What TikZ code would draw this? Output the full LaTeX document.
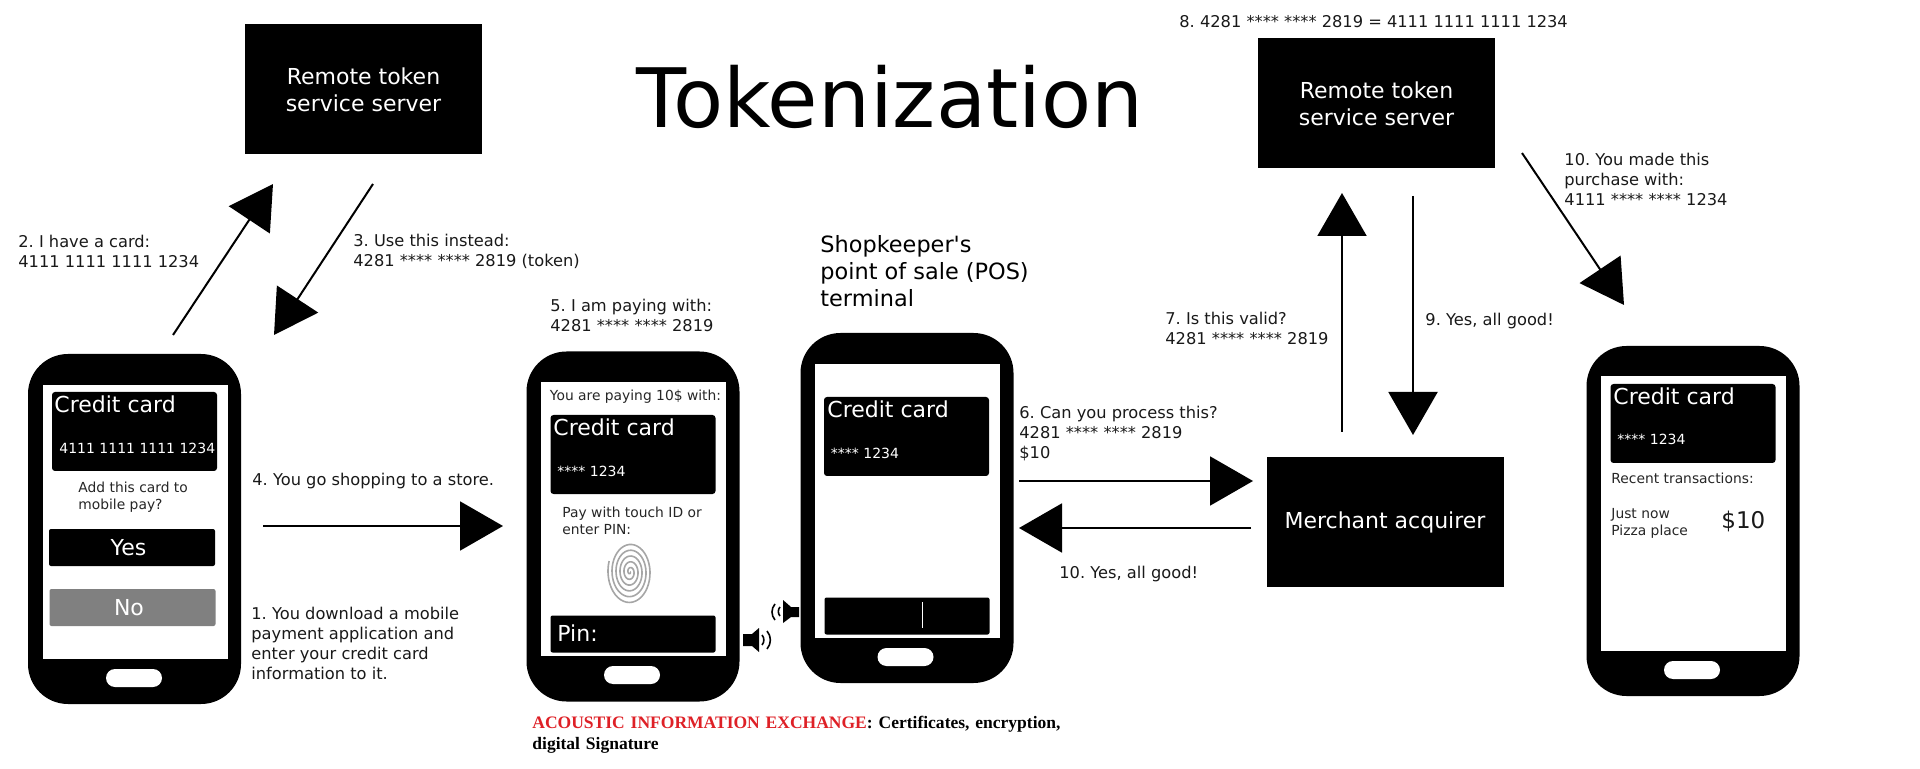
\documentclass[tikz,border=0pt]{standalone}
\usepackage{fontspec}
\setmainfont{DejaVu Sans}
\newfontfamily\plainsans{DejaVu Sans}
\newfontfamily\captionserif{Liberation Serif}
\usetikzlibrary{arrows.meta}
\usepackage{xcolor}
\definecolor{acousticred}{RGB}{222,32,38}
\frenchspacing

\begin{document}
\begin{tikzpicture}[
    x=0.5pt, y=-0.5pt,
    phone/.style={rectangle, fill=black, rounded corners=20pt, minimum width=106.5pt, minimum height=175pt, inner sep=0pt},
    screen/.style={rectangle, fill=white, minimum width=92.5pt, minimum height=137pt, inner sep=0pt},
    homekey/.style={rectangle, fill=white, rounded corners=4.5pt, minimum width=28pt, minimum height=9pt, inner sep=0pt},
    card/.style={rectangle, fill=black, rounded corners=1.5pt, minimum width=82.5pt, minimum height=39.5pt, inner sep=0pt},
    bar/.style={rectangle, fill=black, rounded corners=1pt, minimum width=82.5pt, minimum height=18.5pt, inner sep=0pt, text=white, font=\fontsize{11}{13}\selectfont},
    server/.style={rectangle, fill=black, text=white, minimum width=118.5pt, minimum height=65pt, inner sep=0pt, align=center, font=\fontsize{11}{13.5}\selectfont},
    cardtitle/.style={anchor=west, inner sep=0pt, text=white, font=\fontsize{11}{13}\selectfont},
    cardnumber/.style={anchor=west, inner sep=0pt, text=white, font=\fontsize{7}{9}\selectfont},
    screentext/.style={anchor=west, inner sep=0pt, align=left, text=black!85, font=\fontsize{6.92}{8.7}\selectfont},
    steptext/.style={anchor=west, inner sep=0pt, align=left, text=black!90, font=\fontsize{8.12}{10}\selectfont},
    arrow/.style={-{Triangle[length=21.5pt,width=24.5pt]}, line width=1pt}
]
\useasboundingbox (0,0) rectangle (1920,769);

% Title
\node[anchor=center, inner sep=0pt, font=\fontsize{41}{44}\selectfont] (title) at (890,97) {Tokenization};

% Token servers
\node[server] (remote1) at (363.5,89.5) {Remote token\\service server};
\node[server] (remote2) at (1376.5,103.5) {Remote token\\service server};
\node[server] (acquirer) at (1385,522) {Merchant acquirer};

% First phone
\node[phone] (phone1) at (134.5,529) {};
\node[screen] (screen1) at (135,522) {};
\node[homekey] (home1) at (134,678) {};
\node[card] (card1) at (134.5,431.5) {};
\node[cardtitle] (title1) at (54,404) {Credit card};
\node[cardnumber] (number1) at (59,448) {4111 1111 1111 1234};
\node[screentext] (add1) at (78,497) {Add this card to\\mobile pay?};
\node[bar, minimum width=83pt] (yes1) at (132,547.5) {Yes\kern3.5pt};
\node[bar, fill=black!50, minimum width=83pt] (no1) at (132.5,607.5) {No\kern3.5pt};

% Second phone
\node[phone] (phone2) at (633,526.5) {};
\node[screen] (screen2) at (633.5,519) {};
\node[homekey] (home2) at (632,675) {};
\node[screentext] (paying2) at (549.5,397) {You are paying 10\$ with:};
\node[card] (card2) at (633,454.5) {};
\node[cardtitle] (title2) at (553,427) {Credit card};
\node[cardnumber] (number2) at (557,471) {**** 1234};
\node[screentext] (touch2) at (562,521) {Pay with touch ID or\\enter PIN:};
\draw[black!35, line width=0.8pt] plot[domain=0:2000, samples=240, smooth, variable=\t] ({630+\t/1800*20*cos(\t)},{572+\t/1800*29*sin(\t)});
\node[bar] (pin2) at (633,634) {};
\node[cardtitle] (pintext2) at (557,633) {Pin:};

% Third phone
\node[phone] (phone3) at (907,508) {};
\node[screen] (screen3) at (907,501) {};
\node[homekey] (home3) at (905.5,657) {};
\node[card] (card3) at (906.5,436.5) {};
\node[cardtitle] (title3) at (827,409) {Credit card};
\node[cardnumber] (number3) at (830.5,453) {**** 1234};
\node[bar] (bar3) at (907,616) {};
\draw[white, line width=0.4pt] (922,602) -- (922,628);

% Fourth phone
\node[phone] (phone4) at (1693,521) {};
\node[screen] (screen4) at (1693.5,513.5) {};
\node[homekey] (home4) at (1692,670) {};
\node[card] (card4) at (1693,423.5) {};
\node[cardtitle] (title4) at (1613,396) {Credit card};
\node[cardnumber] (number4) at (1617,439) {**** 1234};
\node[screentext] (recent4) at (1611,478) {Recent transactions:};
\node[screentext] (just4) at (1611,523.5) {Just now\\Pizza place};
\node[anchor=west, inner sep=0pt, text=black!90, font=\fontsize{11.5}{13}\selectfont] (price4) at (1721,521) {\$10};

% Speakers
\fill (743,634) -- (752,634) -- (759,628) -- (759,652) -- (752,646) -- (743,646) -- cycle;
\draw[line width=0.8pt] (762,635) to[bend left=40] (762,645);
\draw[line width=0.8pt] (767,631) to[bend left=40] (767,649);
\fill (799,607) -- (791,607) -- (783,600) -- (783,623) -- (791,617) -- (799,617) -- cycle;
\draw[line width=0.8pt] (780,607) to[bend right=40] (780,616);
\draw[line width=0.8pt] (775,604) to[bend right=40] (775,620);

% Step labels
\node[steptext] (step1) at (251,643) {1. You download a mobile\\payment application and\\enter your credit card\\information to it.};
\node[steptext] (step2) at (18,251) {2. I have a card:\\4111 1111 1111 1234};
\node[steptext] (step3) at (353,251) {3. Use this instead:\\4281 **** **** 2819 (token)};
\node[steptext] (step4) at (252,481) {4. You go shopping to a store.};
\node[steptext] (step5) at (550,315) {5. I am paying with:\\4281 **** **** 2819};
\node[steptext] (step6) at (1019,434) {6. Can you process this?\\4281 **** **** 2819\\\$10};
\node[steptext] (step7) at (1165,328) {7. Is this valid?\\4281 **** **** 2819};
\node[steptext] (step8) at (1179,22) {8. 4281 **** **** 2819 = 4111 1111 1111 1234};
\node[steptext] (step9) at (1425,321) {9. Yes, all good!};
\node[steptext] (step10a) at (1059,574) {10. Yes, all good!};
\node[steptext] (step10b) at (1564,179) {10. You made this\\purchase with:\\4111 **** **** 1234};
\node[anchor=west, inner sep=0pt, align=left, font=\fontsize{11.2}{13.5}\selectfont] (shopkeeper) at (820,271) {Shopkeeper{\plainsans '}s\\point of sale (POS)\\terminal};

% Acoustic caption
\node[anchor=north west, inner sep=0pt, align=left, text width=540pt, font=\captionserif\bfseries\fontsize{8.76}{10.5}\selectfont] (acoustic) at (532,716) {\textcolor{acousticred}{ACOUSTIC INFORMATION EXCHANGE}: Certificates, encryption,\\digital Signature};

% Arrow ends
\coordinate (a2s) at (173,335);
\coordinate (a2e) at (273,184);
\coordinate (a3s) at (373,184);
\coordinate (a3e) at (274,335);
\coordinate (a4s) at (263,526);
\coordinate (a4e) at (503,526);
\coordinate (a6s) at (1019,481);
\coordinate (a6e) at (1253,481);
\coordinate (a10s) at (1251,528);
\coordinate (a10e) at (1019,528);
\coordinate (a7s) at (1342,432);
\coordinate (a7e) at (1342,193);
\coordinate (a9s) at (1413,196);
\coordinate (a9e) at (1413,435);
\coordinate (a11s) at (1522,153);
\coordinate (a11e) at (1624,305);

% Connections
\draw[arrow] (a2s) -- (a2e);
\draw[arrow] (a3s) -- (a3e);
\draw[arrow] (a4s) -- (a4e);
\draw[arrow] (a6s) -- (a6e);
\draw[arrow] (a10s) -- (a10e);
\draw[arrow] (a7s) -- (a7e);
\draw[arrow] (a9s) -- (a9e);
\draw[arrow] (a11s) -- (a11e);

\end{tikzpicture}
\end{document}
